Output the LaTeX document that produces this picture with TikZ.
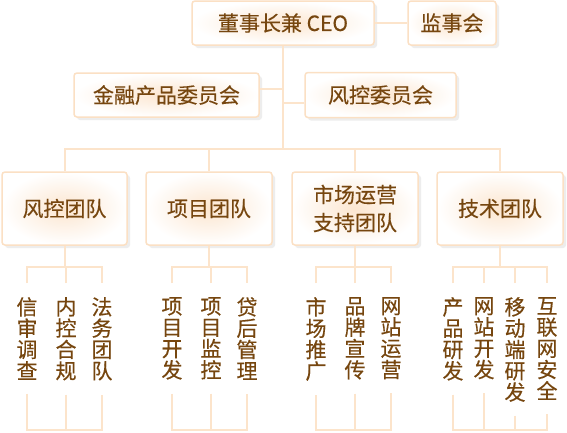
\documentclass[tikz,border=0pt]{standalone}
\usepackage{fontspec}
\newfontfamily\cjk[FakeBold=0.3]{Noto Sans CJK SC}
\usepackage{xcolor}
\usetikzlibrary{positioning,shadows}

\definecolor{txtbrown}{HTML}{76460F}
\definecolor{linepeach}{HTML}{FCE4CB}
\definecolor{boxedge}{HTML}{FBE0C4}
\definecolor{glow}{HTML}{FCE6D0}

\begin{document}
\begin{tikzpicture}[
  x=1pt, y=-1pt,
  every node/.style={font=\cjk\fontsize{21}{28}\selectfont, text=txtbrown},
  orgbox/.style={draw=boxedge, line width=1.5pt, rounded corners=3pt,
    inner color=glow, outer color=white, align=center, inner sep=0pt,
    drop shadow={shadow xshift=3pt, shadow yshift=-3pt, fill=black!7, opacity=1}},
  vtext/.style={align=center, anchor=north, inner xsep=0pt, inner ysep=14pt,
    font=\cjk\fontsize{21}{21.3}\selectfont},
  link/.style={draw=linepeach, line width=2pt},
]

\path[use as bounding box, fill=white] (0,0) rectangle (567,432);

%% Top level
\node[orgbox, minimum width=182pt, minimum height=44pt] (ceo) at (283,23) {董事长兼 CEO};
\node[orgbox, minimum width=88pt, minimum height=44pt]  (jsh) at (452,23) {监事会};

%% Committees
\node[orgbox, minimum width=185pt, minimum height=44pt] (jrwy) at (166.5,95) {金融产品委员会};
\node[orgbox, minimum width=151pt, minimum height=45pt] (fkwy) at (380.5,95) {风控委员会};

%% Teams
\node[orgbox, minimum width=125pt, minimum height=73pt] (fktd) at (64.5,208.5) {风控团队};
\node[orgbox, minimum width=126pt, minimum height=73pt] (xmtd) at (209,208.5)  {项目团队};
\node[orgbox, minimum width=126pt, minimum height=73pt] (sctd) at (355,208.5)  {市场运营\\支持团队};
\node[orgbox, minimum width=126pt, minimum height=73pt] (jstd) at (500,208.5)  {技术团队};

%% Sub-teams (vertical text)
\node[vtext] (fk1) at (27,283)  {信\\审\\调\\查};
\node[vtext] (fk2) at (66,283)  {内\\控\\合\\规};
\node[vtext] (fk3) at (102,283) {法\\务\\团\\队};

\node[vtext] (xm1) at (172,283) {项\\目\\开\\发};
\node[vtext] (xm2) at (211,283) {项\\目\\监\\控};
\node[vtext] (xm3) at (247,283) {贷\\后\\管\\理};

\node[vtext] (sc1) at (316,283) {市\\场\\推\\广};
\node[vtext] (sc2) at (355,283) {品\\牌\\宣\\传};
\node[vtext] (sc3) at (391,283) {网\\站\\运\\营};

\node[vtext] (js1) at (453,283) {产\\品\\研\\发};
\node[vtext] (js2) at (484,283) {网\\站\\开\\发};
\node[vtext] (js3) at (515,283) {移\\动\\端\\研\\发};
\node[vtext] (js4) at (547,283) {互\\联\\网\\安\\全};

%% Connectors: top
\draw[link] (ceo.east) -- (jsh.west);
\coordinate (bus) at (283,149);
\draw[link] (ceo.south) -- (bus);
\coordinate (jrc) at ([yshift=6pt]jrwy.east);
\coordinate (fkc) at ([yshift=-8pt]fkwy.west);
\draw[link] (jrc) -- (jrc -| ceo.south);
\draw[link] (fkc) -- (fkc -| ceo.south);

%% Connectors: team bus
\draw[link] (fktd.north) |- (bus) -| (jstd.north);
\draw[link] (xmtd.north) -- (xmtd.north |- bus);
\draw[link] (sctd.north) -- (sctd.north |- bus);

%% Brackets above and below each group
\foreach \t/\a/\b/\c in {fktd/fk1/fk2/fk3, xmtd/xm1/xm2/xm3, sctd/sc1/sc2/sc3}{
  \coordinate (up) at ([yshift=-21pt]\t.south);
  \coordinate (dn) at (\t.south |- 0,430);
  \draw[link] (\t.south) -- (up);
  \draw[link] (\a.north) |- (up) -| (\c.north);
  \draw[link] (\b.north) -- (\b.north |- up);
  \draw[link] (\a.south) |- (dn) -| (\c.south);
  \draw[link] (\b.south) -- (\b.south |- dn);
}

\coordinate (jsup) at ([yshift=-21pt]jstd.south);
\coordinate (jsdn) at (jstd.south |- 0,430);
\draw[link] (jstd.south) -- (jsup);
\draw[link] (js1.north) |- (jsup) -| (js4.north);
\draw[link] (js2.north) -- (js2.north |- jsup);
\draw[link] (js3.north) -- (js3.north |- jsup);
\draw[link] (js1.south) |- (jsdn) -| (js4.south);
\draw[link] (js2.south) -- (js2.south |- jsdn);
\draw[link] (js3.south) -- (js3.south |- jsdn);

\end{tikzpicture}
\end{document}
